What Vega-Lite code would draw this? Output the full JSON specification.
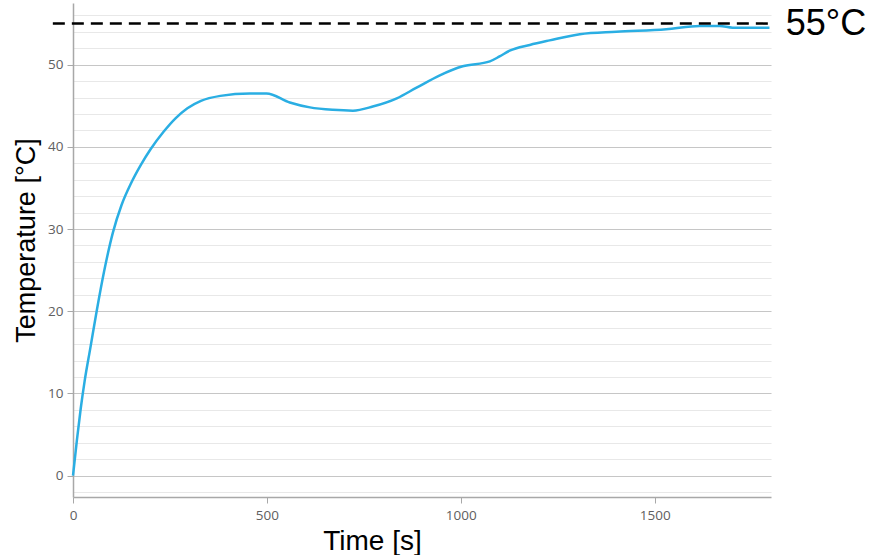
{
  "$schema": "https://vega.github.io/schema/vega-lite/v6.json",
  "width": 698,
  "height": 494,
  "autosize": {"type": "none"},
  "padding": {"left": 73, "top": 3, "right": 110, "bottom": 58},
  "background": "white",
  "config": {"view": {"stroke": null}},
  "layer": [
    {
      "data": {"values": [
        {"t": 0, "T": 0}, {"t": 10, "T": 4.3}, {"t": 20, "T": 8.2}, {"t": 30, "T": 11.5},
        {"t": 45, "T": 15.6}, {"t": 61, "T": 20}, {"t": 80, "T": 24.8}, {"t": 103, "T": 29.6},
        {"t": 125, "T": 32.9}, {"t": 150, "T": 35.6}, {"t": 175, "T": 37.8}, {"t": 200, "T": 39.7},
        {"t": 233, "T": 41.8}, {"t": 265, "T": 43.5}, {"t": 295, "T": 44.7}, {"t": 330, "T": 45.6},
        {"t": 380, "T": 46.2}, {"t": 456, "T": 46.5}, {"t": 499, "T": 46.5}, {"t": 559, "T": 45.4},
        {"t": 611, "T": 44.8}, {"t": 670, "T": 44.5}, {"t": 722, "T": 44.4}, {"t": 773, "T": 44.9},
        {"t": 835, "T": 45.9}, {"t": 886, "T": 47.2}, {"t": 946, "T": 48.7}, {"t": 1005, "T": 49.8},
        {"t": 1075, "T": 50.4}, {"t": 1100, "T": 51.0}, {"t": 1126, "T": 51.7}, {"t": 1178, "T": 52.4},
        {"t": 1229, "T": 52.95}, {"t": 1307, "T": 53.7}, {"t": 1401, "T": 54.0}, {"t": 1530, "T": 54.3},
        {"t": 1616, "T": 54.7}, {"t": 1668, "T": 54.7}, {"t": 1701, "T": 54.5}, {"t": 1796, "T": 54.5}
      ]},
      "mark": {"type": "line", "color": "#2aaee3", "strokeWidth": 2.5, "interpolate": "monotone"},
      "encoding": {
        "x": {
          "field": "t", "type": "quantitative",
          "scale": {"domain": [0, 1800], "nice": false, "zero": false},
          "axis": {
            "title": "Time [s]",
            "titleFont": "Liberation Sans", "titleFontSize": 28, "titleFontWeight": "normal", "titleColor": "black",
            "titleX": 299, "titleY": 44, "titleBaseline": "middle",
            "values": [0, 500, 1000, 1500],
            "format": "d",
            "grid": false,
            "labelFlush": false, "labelOverlap": false,
            "domainColor": "#a8a8a8", "domainWidth": 1.5,
            "tickColor": "#a8a8a8", "tickSize": 6,
            "labelFont": "Open Sans", "labelFontSize": 13.5, "labelColor": "#606060", "labelPadding": 5
          }
        },
        "y": {
          "field": "T", "type": "quantitative",
          "scale": {"domain": [-2.6, 57.5], "nice": false, "zero": false},
          "axis": {
            "title": "Temperature [°C]",
            "titleFont": "Liberation Sans", "titleFontSize": 27, "titleFontWeight": "normal", "titleColor": "black",
            "titleX": -47, "titleY": 237, "titleBaseline": "middle", "titleAngle": -90,
            "values": [-2, 0, 2, 4, 6, 8, 10, 12, 14, 16, 18, 20, 22, 24, 26, 28, 30, 32, 34, 36, 38, 40, 42, 44, 46, 48, 50, 52, 54, 56],
            "tickCount": 100,
            "format": "d",
            "labelExpr": "datum.value % 10 === 0 ? datum.label : ''",
            "labelOverlap": false, "labelFlush": false, "labelBound": false,
            "grid": true,
            "gridColor": {"condition": {"test": "datum.value % 10 === 0", "value": "#c6c6c6"}, "value": "#e8e8e8"},
            "gridWidth": 1.2,
            "domainColor": "#a8a8a8", "domainWidth": 1.5,
            "tickColor": "#a8a8a8", "tickSize": 6,
            "tickOpacity": {"condition": {"test": "datum.value % 10 === 0", "value": 1}, "value": 0},
            "labelFont": "Open Sans", "labelFontSize": 13.5, "labelColor": "#606060", "labelPadding": 4
          }
        }
      }
    },
    {
      "data": {"values": [{"x0": -52, "x1": 1800, "y": 55, "label": "55°C", "lx": 1838}]},
      "layer": [
        {
          "mark": {"type": "rule", "color": "black", "strokeWidth": 2.5, "strokeDash": [12, 7], "clip": false},
          "encoding": {
            "x": {"field": "x0", "type": "quantitative"},
            "x2": {"field": "x1"},
            "y": {"field": "y", "type": "quantitative"}
          }
        },
        {
          "mark": {"type": "text", "font": "Liberation Sans", "fontSize": 36, "align": "left", "baseline": "middle", "color": "black", "clip": false},
          "encoding": {
            "x": {"field": "lx", "type": "quantitative"},
            "y": {"field": "y", "type": "quantitative"},
            "text": {"field": "label"}
          }
        }
      ]
    }
  ]
}
